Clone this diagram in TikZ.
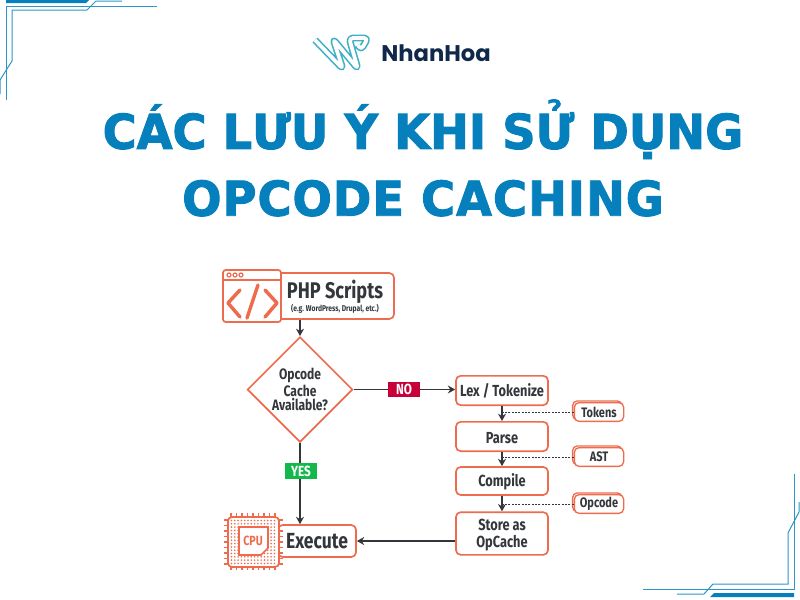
\documentclass[tikz,border=0pt]{standalone}
\usepackage{fontspec}
\usetikzlibrary{shapes.geometric,shadows,arrows.meta}
\setmainfont{Fira Sans}
\newfontfamily\boxfont[FakeStretch=0.8]{Fira Sans}
\newfontfamily\titlefont[FakeStretch=0.965,BoldFeatures={FakeBold=2}]{DejaVu Sans}
\newfontfamily\logofont{Poppins}
\definecolor{hoablue}{HTML}{0580BC}
\definecolor{linkblue}{HTML}{2A97C6}
\definecolor{logoteal}{HTML}{3FAFC6}
\definecolor{logonavy}{HTML}{10294A}
\definecolor{boxline}{HTML}{EE6C4D}
\definecolor{boxtext}{HTML}{33363A}
\definecolor{nored}{HTML}{C70039}
\definecolor{yesgreen}{HTML}{12B84A}
\newcommand{\pushdown}[1]{\rule{0pt}{#1}}
\tikzset{
  flowbox/.style={draw=boxline, line width=1.25pt, rounded corners=3.5pt, fill=white, inner sep=0pt,
    text=boxtext, align=center, font=\boxfont\bfseries\fontsize{12}{12.8}\selectfont},
  tagbox/.style={flowbox, line width=1pt, minimum width=37pt, minimum height=14pt, font=\boxfont\bfseries\fontsize{10.3}{11}\selectfont,
    copy shadow={shadow xshift=-1.3pt, shadow yshift=1.3pt}},
  flag/.style={inner sep=0pt, text=white, font=\boxfont\bfseries\fontsize{11}{11}\selectfont},
  flow/.style={draw=boxtext, line width=1pt, -{Stealth[length=5.5pt,width=6pt]}},
  dotline/.style={draw=boxtext, line width=0.6pt, dash pattern=on 1.4pt off 1.1pt},
  corner/.style={draw=linkblue, line width=0.75pt}
}
\begin{document}
\begin{tikzpicture}[x=0.75pt, y=-0.75pt]
  \useasboundingbox (0,0) rectangle (800,600);
  % corners
  \draw[corner] (157,6) -- (6,6) -- (6,100);
  \draw[corner] (122,1) -- (96,1) -- (87,10) -- (12,10) -- (12,61) -- (0,80) -- (0,94);
  \fill[hoablue] (6,0) -- (89,0) -- (86,3) -- (6,3) -- cycle;
  \draw[corner] (643,589) -- (794,589) -- (794,474);
  \draw[corner] (677,594) -- (704,594) -- (713,584) -- (788,584) -- (788,533) -- (799,512) -- (799,502);
  \fill[hoablue] (710,597) -- (794,597) -- (794,593) -- (714,593) -- cycle;
  % logo
  \draw[logoteal, line width=1.2pt, double=white, double distance=2.8pt, line join=round, rounded corners=3pt]
    (315,40) -- (343,69) -- (333,39) -- (358,69) -- (349,38) -- (368,38) -- (361,50) -- (358,45);
  \node[inner sep=0pt, text=logonavy, font=\logofont\bfseries\fontsize{17}{20}\selectfont] (logoname) at (436,53) {NhanHoa};
  % title
  \node[inner sep=0pt, text=hoablue, align=center, font=\titlefont\bfseries\fontsize{36}{50.2}\selectfont] (title) at (423,158)
    {CÁC LƯU Ý KHI SỬ DỤNG\\\addfontfeature{LetterSpace=2.1}OPCODE CACHING};
  % boxes on the left
  \node[flowbox, minimum width=88.5pt, minimum height=34.5pt] (php) at (335,296)
    {\fontsize{17}{17}\selectfont\pushdown{15pt}PHP Scripts\\[-2.5pt]\fontsize{6.3}{8}\selectfont (e.g. WordPress, Drupal, etc.)};
  \node[flowbox, diamond, aspect=1, rounded corners=0pt, minimum width=79pt, minimum height=79pt,
    font=\boxfont\bfseries\fontsize{11.3}{10.6}\selectfont] (avail) at (300,389.5) {Opcode\\Cache\\Available?};
  \node[flowbox, minimum width=58.5pt, minimum height=24pt, font=\boxfont\bfseries\fontsize{16.4}{17}\selectfont] (exec) at (317,541) {Execute};
  % boxes on the right
  \node[flowbox, minimum width=69pt, minimum height=22pt] (lex) at (502,390.5) {\pushdown{10pt}Lex / Tokenize};
  \node[flowbox, minimum width=69pt, minimum height=22pt] (parse) at (502,436.5) {\pushdown{10.5pt}Parse};
  \node[flowbox, minimum width=69pt, minimum height=21pt] (compile) at (502,481) {\pushdown{11pt}Compile};
  \node[flowbox, minimum width=69pt, minimum height=32pt] (store) at (502,533.5) {\pushdown{11.5pt}Store as\\OpCache};
  \node[tagbox] (tokens) at (599,412) {Tokens};
  \node[tagbox] (ast) at (599,457) {AST};
  \node[tagbox] (opcode) at (599,504) {Opcode};
  % browser icon
  \draw[boxline, line width=1.25pt, rounded corners=2pt, fill=white] (223,270) rectangle (281,322);
  \draw[boxline, line width=1.25pt] (223,280) -- (281,280);
  \foreach \x in {229,235,241}
    \draw[boxline, line width=0.9pt] (\x,275) circle (2);
  \draw[boxline, line width=2.6pt, line cap=round, line join=round]
    (240,290) -- (228,303) -- (240,317) (247,318) -- (258,285) (265,290) -- (277,303) -- (265,317);
  % chip icon
  \foreach \p in {0,5.5,...,44} {
    \draw[boxline, line width=1pt] (231+\p,513) -- (231+\p,517) (231+\p,566) -- (231+\p,570);
    \draw[boxline, line width=1pt] (224,520+\p) -- (228,520+\p) (279,520+\p) -- (283,520+\p);
  }
  \draw[boxline, line width=1.25pt, rounded corners=3pt, fill=white] (228,517) rectangle (279,567);
  \foreach \x in {231.5,234.8,...,277}
    \foreach \y in {520.5,523.8,...,565}
      \fill[boxline] (\x,\y) circle (0.9);
  \draw[boxline, line width=1.25pt, fill=white] (239,527) -- (268,527) -- (268,548) -- (261,555) -- (239,555) -- cycle;
  \node[inner sep=0pt, text=boxline, font=\boxfont\bfseries\fontsize{10}{10}\selectfont] (cpu) at (253,541) {CPU};
  % connectors
  \draw[flow] (php.south -| avail.north) -- (avail.north);
  \draw[flow] (avail.east) -- (avail.east -| lex.west);
  \draw[flow] (avail.south) -- (avail.south |- exec.north);
  \draw[flow] (store.west |- exec.east) -- (exec.east);
  \draw[flow] (lex.south) -- (parse.north);
  \draw[flow] (parse.south) -- (compile.north);
  \draw[flow] (compile.south) -- (store.north);
  \draw[dotline] (tokens.west) -- (tokens.west -| lex.south);
  \draw[dotline] (ast.west) -- (ast.west -| parse.south);
  \draw[dotline] (opcode.west) -- (opcode.west -| compile.south);
  \node[flag, fill=nored, minimum width=24pt, minimum height=11.5pt] (noflag) at (404,389.5) {NO};
  \node[flag, fill=yesgreen, minimum width=24pt, minimum height=12pt] (yesflag) at (301,471) {YES};
\end{tikzpicture}
\end{document}
